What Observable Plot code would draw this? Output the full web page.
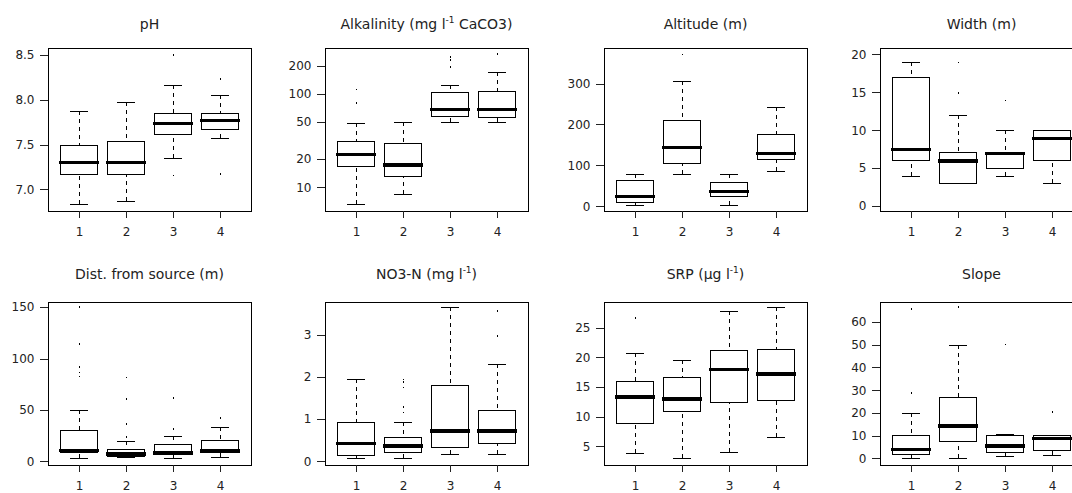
<!DOCTYPE html>
<html>
<head>
<meta charset="utf-8">
<script src="https://cdn.jsdelivr.net/npm/d3@7"></script>
<script src="https://cdn.jsdelivr.net/npm/@observablehq/plot@0.6"></script>
<style>
  html, body { margin: 0; padding: 0; background: #fff; overflow: hidden; }
  #wrap { position: relative; width: 1072px; height: 493px; overflow: hidden; background: #fff; }
  .title {
    position: absolute; width: 203px; text-align: center; white-space: nowrap;
    font-family: "DejaVu Sans", sans-serif; font-size: 14px; line-height: 16px; color: #222;
  }
  .title sup { font-size: 9px; vertical-align: 6px; line-height: 0; }
  .plot { position: absolute; }
  .plot svg { shape-rendering: crispEdges; max-width: none !important; display: block; }
</style>
</head>
<body>
<div id="wrap"></div>
<script>
// Sampling groups on the x axis
const groups = [1, 2, 3, 4];

// Box summaries per group: [lower whisker, Q1, median, Q3, upper whisker]
// Outliers: [group, value]
const phStats = [[6.83, 7.17, 7.305, 7.49, 7.87], [6.87, 7.17, 7.305, 7.53, 7.98], [7.35, 7.61, 7.74, 7.85, 8.17], [7.57, 7.67, 7.775, 7.85, 8.05]];
const phOut = [[3, 8.51], [3, 7.16], [4, 8.24], [4, 7.18]];
const phTicks = [7.0, 7.5, 8.0, 8.5];

const alkStats = [[6.6, 16.5, 22.7, 31.2, 49], [8.4, 12.9, 17.6, 29.7, 50], [50.2, 56.8, 68.7, 102, 124], [50.2, 55.4, 68.7, 105, 169]];
const alkOut = [[1, 112], [1, 81], [3, 251], [3, 231], [3, 194], [4, 270]];
const alkTicks = [10, 20, 50, 100, 200];

const altStats = [[3, 10, 25, 64, 80], [80, 105, 145, 209, 306], [3, 24.5, 37, 58, 80], [86, 114, 130, 176, 243]];
const altOut = [[2, 372]];
const altTicks = [0, 100, 200, 300];

const widthStats = [[4, 6, 7.5, 17, 19], [3, 3, 6, 7, 12], [4, 5, 7, 7, 10], [3, 6, 9, 10, 10]];
const widthOut = [[2, 19], [2, 15], [3, 14]];
const widthTicks = [0, 5, 10, 15, 20];

const distStats = [[3, 8.8, 11, 30, 50], [4.6, 4.9, 7.5, 11.7, 20], [3, 6.5, 8.8, 16.3, 25], [3.9, 8.2, 10.4, 20.2, 33]];
const distOut = [[1, 151], [1, 115], [1, 92], [1, 87], [1, 83], [2, 82], [2, 61], [2, 36.5], [2, 24], [3, 62.5], [3, 32], [4, 42.4]];
const distTicks = [0, 50, 100, 150];

const no3Stats = [[0.08, 0.15, 0.43, 0.93, 1.95], [0.08, 0.22, 0.37, 0.57, 0.93], [0.18, 0.32, 0.73, 1.8, 3.65], [0.18, 0.43, 0.73, 1.2, 2.31]];
const no3Out = [[2, 1.95], [2, 1.88], [2, 1.76], [2, 1.3], [2, 1.17], [4, 3.56], [4, 2.97]];
const no3Ticks = [0, 1, 2, 3];

const srpStats = [[3.8, 8.9, 13.4, 15.9, 20.7], [3.0, 10.9, 13.1, 16.6, 19.5], [4.0, 12.4, 18.05, 21.2, 27.8], [6.5, 12.8, 17.3, 21.4, 28.6]];
const srpOut = [[1, 26.8]];
const srpTicks = [5, 10, 15, 20, 25];

const slopeStats = [[0, 1.6, 4.1, 10, 20], [0, 7.6, 14.4, 26.6, 50], [1, 2.8, 5.6, 10, 10.9], [1.6, 3.5, 9, 10, 10]];
const slopeOut = [[1, 65.9], [1, 29], [2, 66.9], [3, 50.3], [4, 20.5]];
const slopeTicks = [0, 10, 20, 30, 40, 50, 60];

// Panel definitions: title (HTML), data, y scale and ticks
const panels = [
  {title: "pH", stats: phStats, out: phOut, y: {domain: [6.757, 8.58]}, ticks: phTicks, fmt: d3.format(".1f")},
  {title: "Alkalinity (mg l<sup>-1</sup> CaCO3)", stats: alkStats, out: alkOut, y: {type: "log", domain: [5.58, 307.7]}, ticks: alkTicks},
  {title: "Altitude (m)", stats: altStats, out: altOut, y: {domain: [-11.5, 386.8]}, ticks: altTicks},
  {title: "Width (m)", stats: widthStats, out: widthOut, y: {domain: [-0.66, 20.85]}, ticks: widthTicks},
  {title: "Dist. from source (m)", stats: distStats, out: distOut, y: {domain: [-3.5, 155]}, ticks: distTicks},
  {title: "NO3-N (mg l<sup>-1</sup>)", stats: no3Stats, out: no3Out, y: {domain: [-0.086, 3.77]}, ticks: no3Ticks},
  {title: "SRP (\u03bcg l<sup>-1</sup>)", stats: srpStats, out: srpOut, y: {domain: [1.85, 29.36]}, ticks: srpTicks},
  {title: "Slope", stats: slopeStats, out: slopeOut, y: {domain: [-2.9, 68.8]}, ticks: slopeTicks}
];

// Layout of the 2 x 4 grid (frame positions in page pixels)
const frameLefts = [48, 325, 604, 880];
const frameTops = [48, 302];
const titleTops = [16, 266];
const frameW = 203, frameH = 163;
const mLeft = 48, mTop = 4, mRight = 4, mBottom = 34;

function boxPlot(p) {
  const rows = p.stats.map((s, i) => ({g: groups[i], lo: s[0], q1: s[1], med: s[2], q3: s[3], hi: s[4]}));
  const pts = p.out.map(([g, v]) => ({g, v}));
  const half = 0.4, cap = 0.2;
  return Plot.plot({
    width: mLeft + frameW + mRight,
    height: mTop + frameH + mBottom,
    marginLeft: mLeft, marginRight: mRight, marginTop: mTop, marginBottom: mBottom,
    x: {domain: [0.34, 4.66]},
    y: p.y,
    style: {fontFamily: "DejaVu Sans, sans-serif", fontSize: "12px", color: "#222", background: "transparent"},
    marks: [
      // whiskers (dashed), drawn from the whisker end toward the box
      Plot.ruleX(rows, {x: "g", y1: "hi", y2: "q3", stroke: "#000", strokeDasharray: "4,4"}),
      Plot.ruleX(rows, {x: "g", y1: "lo", y2: "q1", stroke: "#000", strokeDasharray: "4,4"}),
      // staples
      Plot.ruleY(rows, {y: "hi", x1: d => d.g - cap, x2: d => d.g + cap, stroke: "#000"}),
      Plot.ruleY(rows, {y: "lo", x1: d => d.g - cap, x2: d => d.g + cap, stroke: "#000"}),
      // boxes
      Plot.rect(rows, {x1: d => d.g - half, x2: d => d.g + half, y1: "q1", y2: "q3", fill: "white", stroke: "#000"}),
      // medians
      Plot.ruleY(rows, {y: "med", x1: d => d.g - half - 0.02, x2: d => d.g + half + 0.02, stroke: "#000", strokeWidth: 3.5}),
      // outliers
      Plot.dot(pts, {x: "g", y: "v", r: 0.9, fill: "#000", stroke: null}),
      Plot.frame({stroke: "#000"}),
      Plot.axisY({ticks: p.ticks, tickFormat: p.fmt ?? (d => String(d)), tickSize: 8, tickPadding: 6, label: null}),
      Plot.axisX({ticks: groups, tickFormat: d => String(d), tickSize: 7, tickPadding: 9, label: null})
    ]
  });
}

const wrap = document.getElementById("wrap");
panels.forEach((p, i) => {
  const col = i % 4, row = Math.floor(i / 4);
  const t = document.createElement("div");
  t.className = "title";
  t.innerHTML = p.title;
  t.style.left = frameLefts[col] + "px";
  t.style.top = titleTops[row] + "px";
  wrap.appendChild(t);

  const holder = document.createElement("div");
  holder.className = "plot";
  holder.style.left = (frameLefts[col] - mLeft) + "px";
  holder.style.top = (frameTops[row] - mTop) + "px";
  holder.style.width = (mLeft + frameW + mRight) + "px";
  holder.appendChild(boxPlot(p));
  wrap.appendChild(holder);
});
</script>
</body>
</html>
